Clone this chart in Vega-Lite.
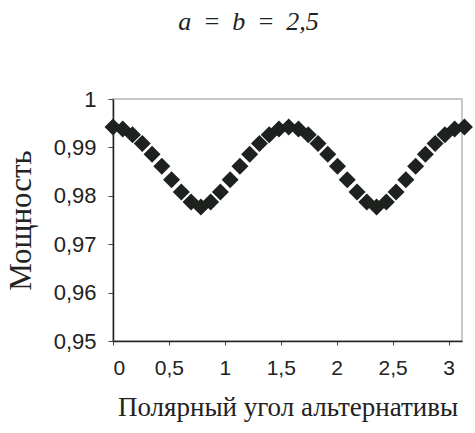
{
  "$schema": "https://vega.github.io/schema/vega-lite/v6.json",
  "width": 349,
  "height": 242,
  "autosize": {"type": "none"},
  "padding": {"left": 113, "top": 99, "right": 13, "bottom": 92},
  "background": "white",
  "title": {
    "text": "a\u00a0\u2009=\u00a0\u2009b\u00a0\u2009=\u00a0\u20092,5",
    "font": "Liberation Serif",
    "fontStyle": "italic",
    "fontWeight": "normal",
    "fontSize": 26,
    "color": "#222",
    "anchor": "middle",
    "dx": -39,
    "offset": 53
  },
  "data": {
    "values": [
      {"angle": 0, "power": 0.9942},
      {"angle": 0.0873, "power": 0.9938},
      {"angle": 0.1745, "power": 0.9926},
      {"angle": 0.2618, "power": 0.9908},
      {"angle": 0.3491, "power": 0.9886},
      {"angle": 0.4363, "power": 0.9861},
      {"angle": 0.5236, "power": 0.9833},
      {"angle": 0.6109, "power": 0.9808},
      {"angle": 0.6981, "power": 0.9787},
      {"angle": 0.7854, "power": 0.9777},
      {"angle": 0.8727, "power": 0.9787},
      {"angle": 0.9599, "power": 0.9808},
      {"angle": 1.0472, "power": 0.9833},
      {"angle": 1.1345, "power": 0.9861},
      {"angle": 1.2217, "power": 0.9886},
      {"angle": 1.309, "power": 0.9908},
      {"angle": 1.3963, "power": 0.9926},
      {"angle": 1.4835, "power": 0.9938},
      {"angle": 1.5708, "power": 0.9942},
      {"angle": 1.6581, "power": 0.9938},
      {"angle": 1.7453, "power": 0.9926},
      {"angle": 1.8326, "power": 0.9908},
      {"angle": 1.9199, "power": 0.9886},
      {"angle": 2.0071, "power": 0.9861},
      {"angle": 2.0944, "power": 0.9833},
      {"angle": 2.1817, "power": 0.9808},
      {"angle": 2.2689, "power": 0.9787},
      {"angle": 2.3562, "power": 0.9777},
      {"angle": 2.4435, "power": 0.9787},
      {"angle": 2.5307, "power": 0.9808},
      {"angle": 2.618, "power": 0.9833},
      {"angle": 2.7053, "power": 0.9861},
      {"angle": 2.7925, "power": 0.9886},
      {"angle": 2.8798, "power": 0.9908},
      {"angle": 2.9671, "power": 0.9926},
      {"angle": 3.0543, "power": 0.9938},
      {"angle": 3.1416, "power": 0.9942}
    ]
  },
  "mark": {"type": "point", "shape": "diamond", "filled": true, "size": 290, "color": "#1e221f", "opacity": 1, "clip": false},
  "encoding": {
    "x": {
      "field": "angle",
      "type": "quantitative",
      "scale": {"domain": [0, 3.12], "nice": false, "zero": false},
      "axis": {
        "title": "Полярный угол альтернативы",
        "values": [0, 0.5, 1, 1.5, 2, 2.5, 3],
        "labelExpr": "replace(format(datum.value, '~g'), '.', ',')",
        "labelFont": "Liberation Sans",
        "labelFontSize": 21,
        "labelColor": "#222",
        "labelPadding": 12,
        "tickSize": 4,
        "tickColor": "#444",
        "domainColor": "#222",
        "domainWidth": 1.5,
        "grid": false,
        "titleFont": "Liberation Serif",
        "titleFontSize": 27,
        "titleFontWeight": "normal",
        "titleColor": "#222",
        "titlePadding": 16
      }
    },
    "y": {
      "field": "power",
      "type": "quantitative",
      "scale": {"domain": [0.95, 1], "nice": false, "zero": false},
      "axis": {
        "title": "Мощность",
        "values": [0.95, 0.96, 0.97, 0.98, 0.99, 1],
        "labelExpr": "replace(format(datum.value, '~g'), '.', ',')",
        "labelFont": "Liberation Sans",
        "labelFontSize": 22,
        "labelColor": "#222",
        "labelPadding": 12,
        "tickSize": 5,
        "tickColor": "#444",
        "domainColor": "#222",
        "domainWidth": 1.5,
        "grid": false,
        "titleFont": "Liberation Serif",
        "titleFontSize": 31,
        "titleFontWeight": "normal",
        "titleColor": "#222",
        "titlePadding": 16
      }
    }
  },
  "config": {
    "view": {"stroke": "#b5b5b5", "strokeWidth": 1.5}
  }
}
